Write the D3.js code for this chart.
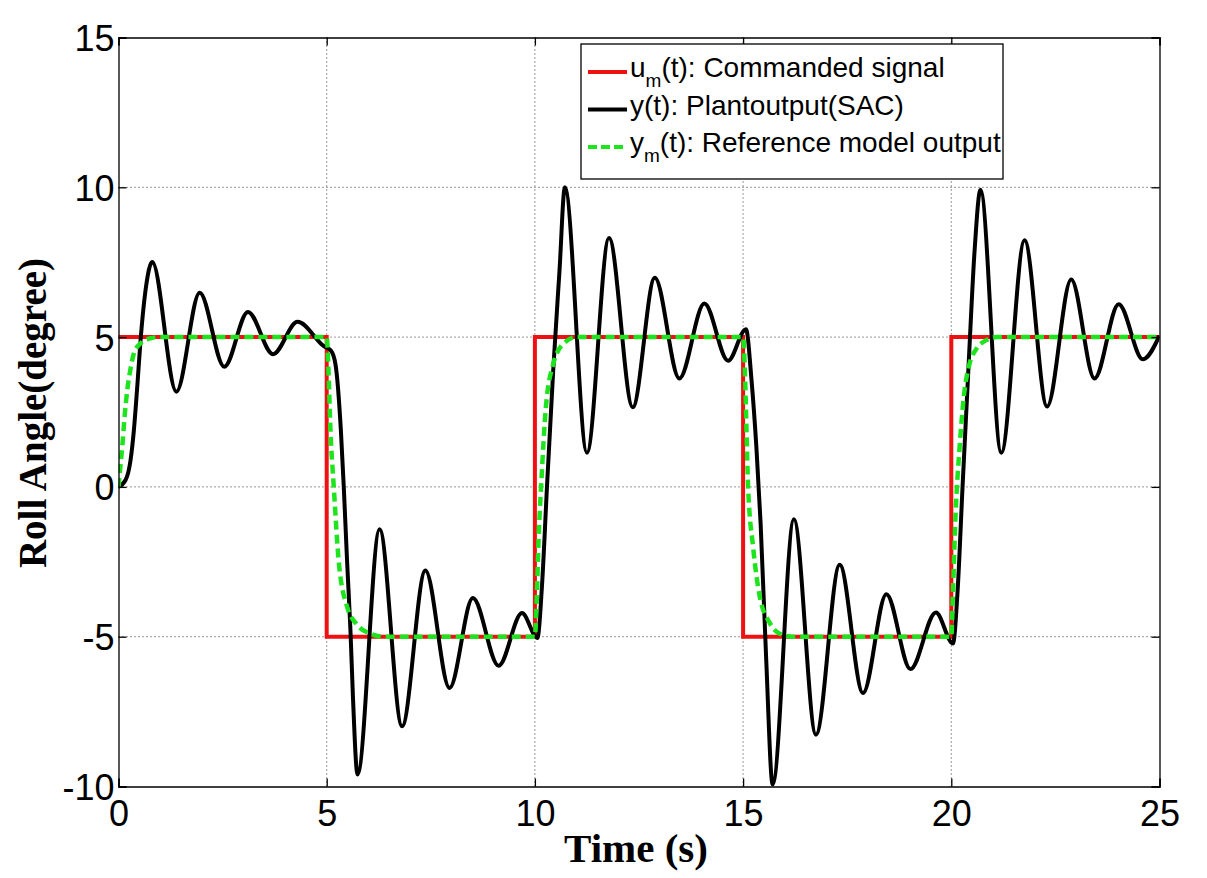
<!DOCTYPE html>
<html>
<head>
<meta charset="utf-8">
<script src="https://cdn.jsdelivr.net/npm/d3@7"></script>
<style>
  body { margin: 0; background: #fff; }
  svg { display: block; }
</style>
</head>
<body>
<svg id="chart" width="1207" height="878"></svg>
<script>

// Commanded signal u_m(t): square wave, value held until next time
let cmd_time  = [0, 5, 10, 15, 20, 25];
let cmd_value = [5, -5, 5, -5, 5, 5];

// Plant output y(t) (SAC): peaks, troughs and a few points on the fronts
let plant_time  = [0, 0.17, 0.29, 0.37, 0.45, 0.53, 0.65, 0.81, 1.39, 1.95, 2.54, 3.11, 3.71, 4.30, 4.93, 5.10,
                   5.21, 5.34, 5.41, 5.49, 5.57, 5.63, 5.74, 6.27, 6.81, 7.37, 7.95, 8.51, 9.13, 9.69, 10.06,
                   10.17, 10.29, 10.44, 10.59, 10.72, 11.25, 11.78, 12.35, 12.88, 13.47, 14.07, 14.64, 15.07,
                   15.20, 15.32, 15.42, 15.55, 15.71, 16.22, 16.75, 17.32, 17.88, 18.44, 19.02, 19.63, 20.04,
                   20.15, 20.27, 20.42, 20.56, 20.70, 21.20, 21.76, 22.30, 22.88, 23.44, 24.02, 24.60, 25];
let plant_value = [0, 0.23, 0.9, 1.9, 3.34, 4.9, 6.57, 7.51, 3.18, 6.48, 4.01, 5.84, 4.43, 5.51, 4.70, 4.55,
                   4.1, 1.9, 0, -2.5, -4.77, -7.0, -9.6, -1.41, -7.99, -2.79, -6.71, -3.71, -5.97, -4.21, -5.04,
                   -3.3, 0, 3.9, 7.2, 10.0, 1.14, 8.31, 2.66, 6.98, 3.62, 6.12, 4.21, 5.26,
                   3.6, 1.3, -1.2, -5.6, -9.93, -1.08, -8.27, -2.6, -6.88, -3.58, -6.08, -4.19, -5.23,
                   -3.5, 0, 4.2, 7.9, 9.92, 1.14, 8.23, 2.68, 6.92, 3.62, 6.1, 4.26, 5.05];

// Reference model output y_m(t)
let model_time  = [0, 0.04, 0.09, 0.15, 0.21, 0.29, 0.37, 0.5, 0.77, 1.0,
                   5.0, 5.04, 5.09, 5.17, 5.29, 5.49, 5.73, 6.05, 6.4,
                   10.0, 10.04, 10.09, 10.16, 10.26, 10.44, 10.7, 11.0,
                   15.0, 15.04, 15.08, 15.12, 15.24, 15.40, 15.64, 15.88, 16.2,
                   20.0, 20.04, 20.1, 20.2, 20.3, 20.44, 20.6, 20.84, 21.1, 25];
let model_value = [0, 0.6, 1.34, 2.4, 3.23, 3.95, 4.46, 4.75, 4.96, 5.0,
                   5.0, 4.0, 1.9, 0, -2.5, -4.0, -4.6, -4.9, -5.0,
                   -5.0, -3.9, -1.7, 0.3, 2.6, 4.1, 4.8, 5.0,
                   5.0, 4.0, 2.0, 0, -2.0, -3.66, -4.54, -4.9, -5.0,
                   -5.0, -3.5, -1.0, 1.34, 3.0, 4.12, 4.6, 4.9, 5.0, 5.0];

let x_ticks = [0, 5, 10, 15, 20, 25];
let y_ticks = [-10, -5, 0, 5, 10, 15];

let legend_labels = [
    { main: "u", sub: "m", rest: "(t): Commanded signal" },
    { main: "y(t): Plantoutput(SAC)", sub: null, rest: "" },
    { main: "y", sub: "m", rest: "(t): Reference model output" }
];

let red_color   = "#ee1111";
let black_color = "#000000";
let green_color = "#1ee41e";

function zip(ts, vs){
    return ts.map(function(t, i){ return { t: t, v: vs[i] }; });
}

let chart = d3.select("#chart");
let margin = { left: 118.5, top: 37.5, right: 47.5, bottom: 91.5 };
let width  = 1207 - margin.left - margin.right;
let height = 878 - margin.top - margin.bottom;

let g = chart.append("g").attr("transform", "translate(" + margin.left + "," + margin.top + ")");

// scales
let x = d3.scaleLinear().domain([0, 25]).range([0, width]);
let y = d3.scaleLinear().domain([-10, 15]).range([height, 0]);

// dotted grid
g.append("g").selectAll("line")
    .data(x_ticks.slice(1, -1)).enter()
    .append("line")
        .attr("x1", function(d){ return x(d); }).attr("x2", function(d){ return x(d); })
        .attr("y1", 0).attr("y2", height)
        .attr("stroke", "#333").attr("stroke-width", 1).attr("stroke-dasharray", "1,3");
g.append("g").selectAll("line")
    .data(y_ticks.slice(1, -1)).enter()
    .append("line")
        .attr("y1", function(d){ return y(d); }).attr("y2", function(d){ return y(d); })
        .attr("x1", 0).attr("x2", width)
        .attr("stroke", "#333").attr("stroke-width", 1).attr("stroke-dasharray", "1,3");

// clip for the curves
chart.append("defs").append("clipPath").attr("id", "plot-clip")
    .append("rect").attr("x", 0).attr("y", 0).attr("width", width).attr("height", height);

let lines = g.append("g").attr("clip-path", "url(#plot-clip)");

let step_line = d3.line()
    .x(function(d){ return x(d.t); })
    .y(function(d){ return y(d.v); })
    .curve(d3.curveStepAfter);

let smooth_line = d3.line()
    .x(function(d){ return x(d.t); })
    .y(function(d){ return y(d.v); })
    .curve(d3.curveMonotoneX);

lines.append("path")
    .datum(zip(cmd_time, cmd_value))
    .attr("d", step_line)
    .attr("fill", "none").attr("stroke", red_color).attr("stroke-width", 4);

lines.append("path")
    .datum(zip(plant_time, plant_value))
    .attr("d", smooth_line)
    .attr("fill", "none").attr("stroke", black_color).attr("stroke-width", 4)
    .attr("stroke-linejoin", "round");

lines.append("path")
    .datum(zip(model_time, model_value))
    .attr("d", smooth_line)
    .attr("fill", "none").attr("stroke", green_color).attr("stroke-width", 4.5)
    .attr("stroke-dasharray", "9,5");

// axes, ticks pointing inward on all four sides
let tick_font = "Liberation Sans, Arial, sans-serif";
let plain = function(d){ return String(d); };   // keep ascii hyphen for negatives

let x_bottom = g.append("g").attr("transform", "translate(0," + height + ")")
    .call(d3.axisBottom(x).tickValues(x_ticks).tickSize(-8).tickPadding(14).tickFormat(plain));
let x_top = g.append("g")
    .call(d3.axisTop(x).tickValues(x_ticks).tickSize(-8).tickFormat(""));
let y_left = g.append("g")
    .call(d3.axisLeft(y).tickValues(y_ticks).tickSize(-8).tickPadding(12).tickFormat(plain));
let y_right = g.append("g").attr("transform", "translate(" + width + ",0)")
    .call(d3.axisRight(y).tickValues(y_ticks).tickSize(-8).tickFormat(""));

[x_bottom, x_top, y_left, y_right].forEach(function(a){
    a.select(".domain").attr("stroke", "#000").attr("stroke-width", 1.3);
    a.selectAll(".tick line").attr("stroke", "#000").attr("stroke-width", 1.3);
    a.selectAll(".tick text")
        .attr("font-family", tick_font).attr("font-size", 36).attr("fill", "#000");
});
x_bottom.selectAll(".tick text").attr("dy", "0.72em");
y_left.selectAll(".tick text").attr("x", -4).attr("dy", "0.36em");

// axis titles
chart.append("text")
    .attr("x", margin.left + width / 2 - 3)
    .attr("y", 862)
    .attr("text-anchor", "middle")
    .attr("font-family", "Liberation Serif, Times New Roman, serif")
    .attr("font-weight", "bold").attr("font-size", 41)
    .text("Time (s)");

chart.append("text")
    .attr("transform", "translate(46,413) rotate(-90)")
    .attr("text-anchor", "middle")
    .attr("font-family", "Liberation Serif, Times New Roman, serif")
    .attr("font-weight", "bold").attr("font-size", 39)
    .text("Roll Angle(degree)");

// legend
let legend = chart.append("g").attr("transform", "translate(581,44)");
legend.append("rect")
    .attr("width", 422).attr("height", 135)
    .attr("fill", "#fff").attr("stroke", "#000").attr("stroke-width", 1.3);

let legend_styles = [
    { color: red_color, dash: null },
    { color: black_color, dash: null },
    { color: green_color, dash: "9,4" }
];

let rows = legend.selectAll("g.row")
    .data(legend_labels).enter()
    .append("g")
        .attr("class", "row")
        .attr("transform", function(d, i){ return "translate(0," + (28 + i * 37.5) + ")"; });

rows.append("line")
    .attr("x1", 7).attr("x2", 46).attr("y1", 0).attr("y2", 0)
    .attr("stroke", function(d, i){ return legend_styles[i].color; })
    .attr("stroke-width", 4)
    .attr("stroke-dasharray", function(d, i){ return legend_styles[i].dash; });

let row_text = rows.append("text")
    .attr("x", 49).attr("y", 5)
    .attr("font-family", tick_font).attr("font-size", 28).attr("fill", "#000");

row_text.append("tspan").text(function(d){ return d.main; });
row_text.filter(function(d){ return d.sub; }).append("tspan")
    .attr("font-size", 19).attr("dy", 10)
    .text(function(d){ return d.sub; });
row_text.filter(function(d){ return d.sub; }).append("tspan")
    .attr("dy", -10)
    .text(function(d){ return d.rest; });

</script>
</body>
</html>
